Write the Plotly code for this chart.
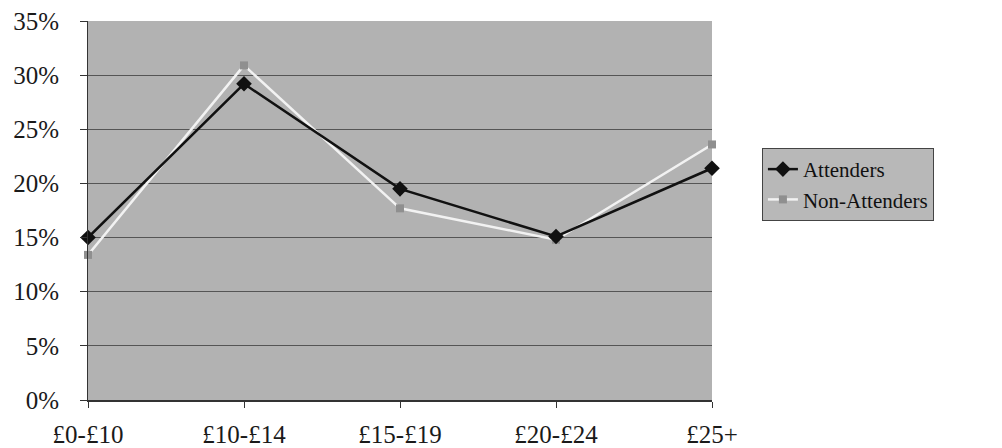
import plotly.graph_objects as go

categories = ["£0-£10", "£10-£14", "£15-£19", "£20-£24", "£25+"]
attenders = [15.0, 29.2, 19.5, 15.1, 21.4]
non_attenders = [13.4, 30.9, 17.7, 14.8, 23.6]
y_ticks = [0, 5, 10, 15, 20, 25, 30, 35]
y_labels = [f"{v}%" for v in y_ticks]

xs = list(range(len(categories)))

fig = go.Figure()
fig.add_trace(go.Scatter(
    x=xs, y=non_attenders, name="Non-Attenders", mode="lines+markers",
    line=dict(color="#f2f2f2", width=2.5),
    marker=dict(symbol="square", size=8, color="#8f8f8f"),
    cliponaxis=False,
))
fig.add_trace(go.Scatter(
    x=xs, y=attenders, name="Attenders", mode="lines+markers",
    line=dict(color="#111111", width=2.5),
    marker=dict(symbol="diamond", size=12, color="#111111"),
    cliponaxis=False,
))

# page body has an 8px margin, so the figure is sized to fill the rest
fig.update_layout(
    width=994, height=440,
    margin=dict(l=80, r=290, t=13, b=48, autoexpand=False),
    paper_bgcolor="white",
    plot_bgcolor="#b2b2b2",
    font=dict(family="Liberation Serif", size=25, color="#1a1a1a"),
    showlegend=True,
    legend=dict(
        x=1.08, y=0.665, xanchor="left", yanchor="top",
        bgcolor="#b8b8b8", bordercolor="#444444", borderwidth=1,
        font=dict(family="Liberation Serif", size=21, color="#111111"),
        traceorder="reversed",
        itemwidth=30,
    ),
    xaxis=dict(
        range=[0, 4], tickvals=xs, ticktext=categories,
        showgrid=False, zeroline=False, automargin=False,
        showline=True, linecolor="#333333", linewidth=1.5,
        ticks="outside", ticklen=6, tickcolor="#333333",
        ticklabelstandoff=5, ticklabeloverflow="allow",
    ),
    yaxis=dict(
        range=[0, 35], tickvals=y_ticks, ticktext=y_labels,
        showgrid=True, gridcolor="#555555", gridwidth=1,
        zeroline=False, automargin=False,
        showline=True, linecolor="#333333", linewidth=1,
        ticks="outside", ticklen=7, tickcolor="#333333",
        ticklabelstandoff=16, ticklabeloverflow="allow",
    ),
)

fig.write_html("out.html")
